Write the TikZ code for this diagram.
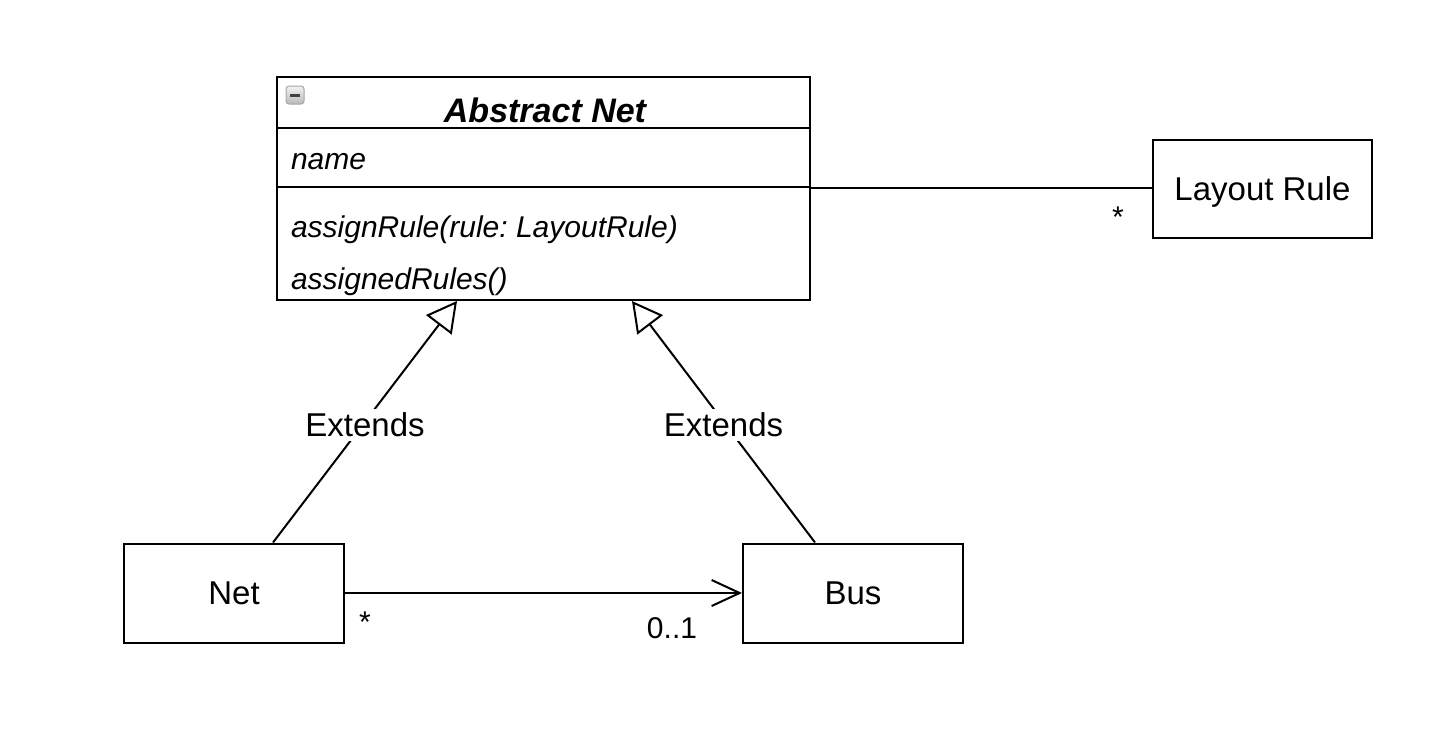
\documentclass[tikz,border=0pt]{standalone}
\usepackage{fontspec}
\setmainfont{Liberation Sans}
\usetikzlibrary{arrows.meta}
\frenchspacing

\begin{document}
\begin{tikzpicture}[x=0.5pt, y=-0.5pt, line width=1pt]

% Just a workaround to keep the frame of the diagram
\useasboundingbox (0,0) rectangle (1438,744);

% Boxes
\newcommand{\umlbox}[5]{
	\node[draw, inner sep=0pt, minimum width=#3, minimum height=#4,
		text height=11.8pt, text depth=0pt, font=\fontsize{16.5}{20}\selectfont]
		(#1) at (#2) {#5}
	;
}
\umlbox {absHead} {543.5,102.5} {266.5pt} {25.5pt} {}
\umlbox {absAttr} {543.5,157.5} {266.5pt} {29.5pt} {}
\umlbox {absOps}  {543.5,243.5} {266.5pt} {56.5pt} {}
\umlbox {layout}  {1262.5,189}  {109.5pt} {49pt}   {Layout Rule}
\umlbox {net}     {234,593}     {110pt}   {49.5pt} {Net}
\umlbox {bus}     {853,593}     {110pt}   {49.5pt} {Bus}

% Collapse icon
\shade[top color=gray!10, bottom color=gray!55, draw=gray!70, line width=0.5pt, rounded corners=1.5pt]
	(286,86) rectangle (304,104);
\fill[black!75] (290,93.5) rectangle (300,96.5);

% Class texts
\newcommand{\member}[3]{
	\node[anchor=base west, inner sep=0pt, font=\fontsize{15}{18}\selectfont\itshape]
		(#1) at (#2) {#3}
	;
}
\node[anchor=base, inner sep=0pt, font=\fontsize{17}{20}\selectfont\bfseries\itshape]
	(absTitle) at (545,122) {Abstract Net};
\member {absName}     {290,169} {name}
\member {absAssign}   {290,237} {assignRule(rule: LayoutRule)}
\member {absAssigned} {290,289} {assignedRules()}

% Arrows
\newcommand{\extends}[2]{
	\draw[-{Triangle[open, length=15pt, width=16pt]}]
		(#1) -- node[fill=white, inner sep=2pt, yshift=-1.5pt, font=\fontsize{16.5}{20}\selectfont] {Extends} (#2)
	;
}
\extends {[xshift=19.5pt]net.north} {[xshift=-43.25pt]absOps.south}
\extends {[xshift=-19pt]bus.north}  {[xshift=44.25pt]absOps.south}

\draw (absAttr.south east) -- (absAttr.south east -| layout.west);
\draw[-{Straight Barb[length=14pt, width=13pt]}] (net) -- (bus);

% Multiplicities
\tikzset{mult/.style={inner sep=0pt, font=\fontsize{15}{18}\selectfont}}
\node[mult] (layoutMult) at (1118,217) {*};
\node[mult] (netMult)    at (365,622)  {*};
\node[mult] (busMult)    at (672,628)  {0..1};

\end{tikzpicture}
\end{document}
